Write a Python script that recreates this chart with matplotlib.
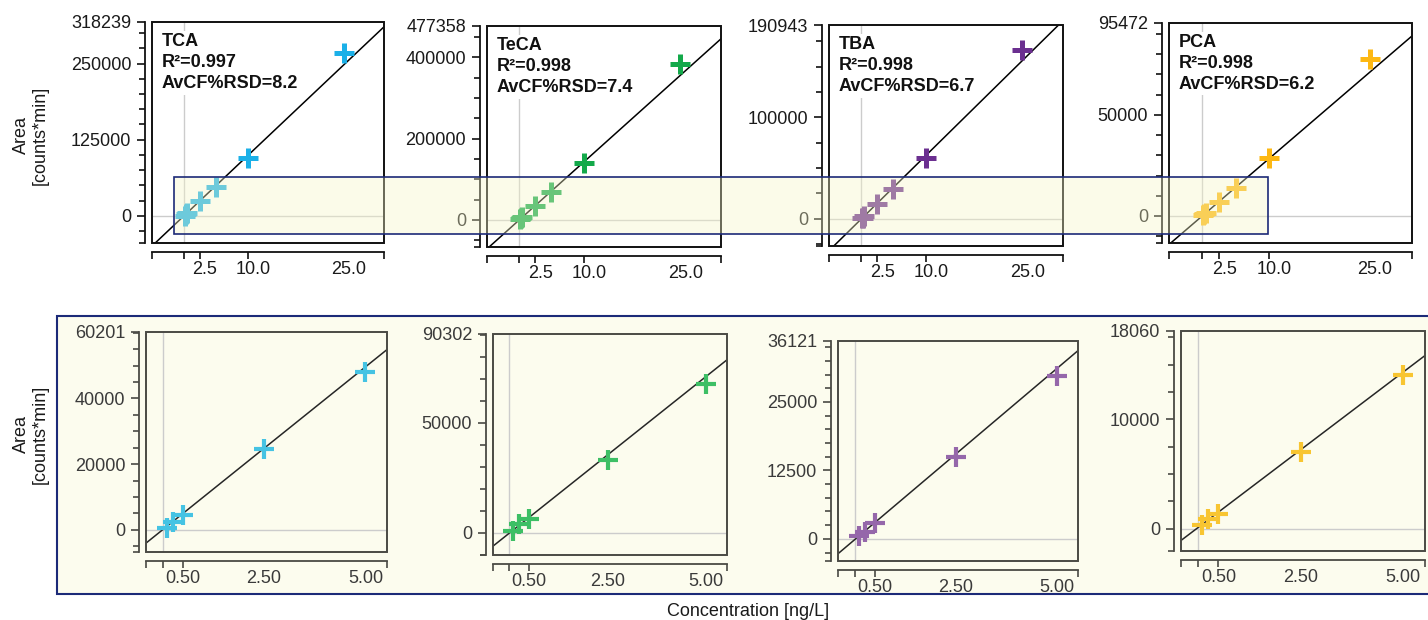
import matplotlib
matplotlib.use('Agg')
import matplotlib.pyplot as plt
from matplotlib.patches import Rectangle
from matplotlib.transforms import ScaledTranslation
import numpy as np

plt.rcParams['font.family'] = ['Liberation Sans', 'DejaVu Sans']

# ---------------- data ----------------
compounds = ['TCA', 'TeCA', 'TBA', 'PCA']
r2_values = ['0.997', '0.998', '0.998', '0.998']
rsd_values = ['8.2', '7.4', '6.7', '6.2']

conc = [0.1, 0.25, 0.5, 2.5, 5.0, 10.0, 25.0]
n_low = 5  # number of low-level points shown in the zoomed row

area_tca = [500, 2500, 4500, 24500, 48000, 94600, 268000]
area_teca = [1000, 4100, 6400, 33000, 67600, 140700, 383500]
area_tba = [480, 1270, 2960, 15000, 29800, 59800, 166000]
area_pca = [360, 880, 1360, 6970, 14000, 28500, 77500]
areas = [area_tca, area_teca, area_tba, area_pca]

slopes = [9914, 14251, 6243, 2842]
intercepts = [25, -237, -160, 104]

top_ymax = [318239, 477358, 190943, 95472]
top_ymajor = [[0, 125000, 250000], [0, 200000, 400000], [0, 100000], [0, 50000]]
top_yminor_step = [25000, 50000, 25000, 10000]
top_xticks = [2.5, 10.0, 25.0]
top_xticklabels = ['2.5', '10.0', '25.0']

low_ymax = [60201, 90302, 36121, 18060]
low_ymajor = [[0, 20000, 40000], [0, 50000], [0, 12500, 25000], [0, 10000]]
low_yminor_step = [5000, 10000, 2500, 2500]
low_xticks = [0.5, 2.5, 5.0]
low_xticklabels = ['0.50', '2.50', '5.00']

# ---------------- styles / layout ----------------
W, H = 1428, 620
colors_dark = ['#1bb0e8', '#13a94a', '#6b2f90', '#fdb813']
colors_light = ['#45c3e3', '#3dbf65', '#9567aa', '#f8c531']

top_boxes = [(152, 22, 384, 243), (487, 26, 721, 247), (829, 25, 1063, 246), (1169, 23, 1412, 243)]
low_boxes = [(146, 332, 387, 552), (493, 334, 727, 555), (838, 341, 1078, 561), (1181, 331, 1425, 551)]
top_xlim = (-5.0, 31.3)
low_xlim = (-0.41, 5.53)
top_ymin_frac = 0.14
low_ymin_frac = 0.112

fig = plt.figure(figsize=(W / 100, H / 100), dpi=100)
fig.patch.set_facecolor('white')


def box_to_rect(b):
    x0, y0, x1, y1 = b
    return [x0 / W, 1 - y1 / H, (x1 - x0) / W, (y1 - y0) / H]


def setup_axes(ax, xlim, ylim, ymajor, ystep, xticks, xlabels, frame_col, txt_col, hide_last_xtick):
    ax.set_facecolor('none')
    ax.set_xlim(xlim)
    ax.set_ylim(ylim)
    for s in ['top', 'right']:
        ax.spines[s].set_visible(False)
    ax.spines['left'].set_position(('outward', 5))
    ax.spines['bottom'].set_position(('outward', 6.5))
    for s in ['left', 'bottom']:
        ax.spines[s].set_color(frame_col)
        ax.spines[s].set_linewidth(1.3)
    ax.add_patch(Rectangle((0, 0), 1, 1, transform=ax.transAxes, fill=False,
                           edgecolor=frame_col, lw=1.4, zorder=6, clip_on=False))
    yt = list(ymajor) + [ylim[1]]
    ax.set_yticks(yt)
    ax.set_yticklabels([str(int(v)) for v in yt])
    start = ystep * np.ceil(ylim[0] / ystep)
    minor = list(np.arange(start, ylim[1], ystep)) + [ylim[0]]
    ax.set_yticks(minor, minor=True)
    ax.set_xticks(xticks)
    ax.set_xticklabels(xlabels)
    ax.set_xticks([xlim[0], 0.0, xlim[1]], minor=True)
    if hide_last_xtick:
        ax.xaxis.get_major_ticks()[-1].tick1line.set_visible(False)
    ax.tick_params(axis='both', which='both', direction='out', color=frame_col,
                   width=1.2, labelsize=13, labelcolor=txt_col)
    ax.tick_params(axis='y', which='major', length=6, pad=4)
    ax.tick_params(axis='y', which='minor', length=4)
    ax.tick_params(axis='x', which='both', length=5, pad=1.5)
    ax.axhline(0, color='#cccccc', lw=1.0, zorder=1)
    ax.axvline(0, color='#cccccc', lw=1.0, zorder=1)


# bottom-row highlight background
fig.add_artist(Rectangle((57 / W, 1 - 594 / H), (1450 - 57) / W, (594 - 316) / H,
                         transform=fig.transFigure, facecolor='#fcfcee',
                         edgecolor='#1c2a78', lw=1.5, zorder=-1))

shift = ScaledTranslation(5 / 100, 0, fig.dpi_scale_trans)

for i in range(4):
    # ---------- top row ----------
    ax = fig.add_axes(box_to_rect(top_boxes[i]))
    ylim = (-top_ymin_frac * top_ymax[i], top_ymax[i])
    setup_axes(ax, top_xlim, ylim, top_ymajor[i], top_yminor_step[i],
               top_xticks, top_xticklabels, '#111111', '#1a1a1a', True)
    for lab in ax.get_xticklabels():
        lab.set_transform(lab.get_transform() + shift)
    xx = np.array(top_xlim)
    ax.plot(xx, slopes[i] * xx + intercepts[i], color='black', lw=1.1, zorder=3)
    ax.plot(conc, areas[i], linestyle='none', marker='+', ms=15, mew=3.6,
            color=colors_dark[i], zorder=4)
    ax.text(0.04, 0.95, f"{compounds[i]}\nR²={r2_values[i]}\nAvCF%RSD={rsd_values[i]}",
            transform=ax.transAxes, ha='left', va='top', fontsize=13, fontweight='bold',
            linespacing=1.32, color='#111111', zorder=2,
            bbox=dict(facecolor='white', edgecolor='none', pad=1.5))

    # ---------- bottom row ----------
    ax2 = fig.add_axes(box_to_rect(low_boxes[i]))
    ylim2 = (-low_ymin_frac * low_ymax[i], low_ymax[i])
    setup_axes(ax2, low_xlim, ylim2, low_ymajor[i], low_yminor_step[i],
               low_xticks, low_xticklabels, '#4a4a44', '#3a3a3a', False)
    ax2.xaxis.get_major_ticks()[1].tick1line.set_visible(False)
    ax2.xaxis.get_major_ticks()[2].tick1line.set_visible(False)
    xx2 = np.array(low_xlim)
    ax2.plot(xx2, slopes[i] * xx2 + intercepts[i], color='#262626', lw=1.1, zorder=3)
    ax2.plot(conc[:n_low], areas[i][:n_low], linestyle='none', marker='+', ms=14, mew=3.0,
             color=colors_light[i], zorder=4)

# top-row highlight overlay (semi-transparent)
fig.add_artist(Rectangle((174 / W, 1 - 234 / H), (1268 - 174) / W, (234 - 177) / H,
                         transform=fig.transFigure, facecolor=(0.96, 0.96, 0.78, 0.38),
                         edgecolor='#1c2a78', lw=1.2, zorder=10))

# global labels
fig.text(31 / W, 1 - 135 / H, "Area\n[counts*min]", rotation=90, ha='center', va='center',
         fontsize=13, color='#1a1a1a', linespacing=1.15)
fig.text(31 / W, 1 - 434 / H, "Area\n[counts*min]", rotation=90, ha='center', va='center',
         fontsize=13, color='#1a1a1a', linespacing=1.15)
fig.text(748 / W, 1 - 611 / H, "Concentration [ng/L]", ha='center', va='center',
         fontsize=13, color='#1a1a1a')

fig.savefig('out.png', dpi=100, facecolor='white')
